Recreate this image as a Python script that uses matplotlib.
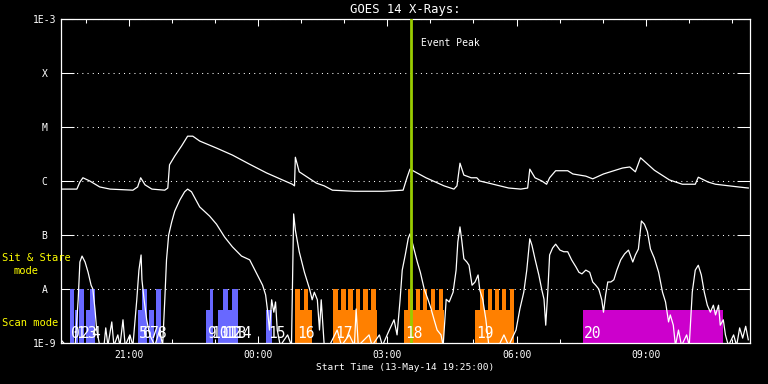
import numpy as np
import matplotlib
matplotlib.use("Agg")
import matplotlib.pyplot as plt
from matplotlib.ticker import FixedLocator, NullLocator

plt.rcParams["font.family"] = ["DejaVu Sans Mono"]

# hours since start time (13-May-14 19:25:00)
START_H = 19 + 25 / 60
SPAN_H = 16.0
time_labels = ["21:00", "00:00", "03:00", "06:00", "09:00"]

# GOES 1-8 A channel (log10 W/m^2)
long_t = [0.01, 0.38, 0.45, 0.52, 0.68, 0.91, 1.15, 1.68, 1.79, 1.86,
          1.96, 2.12, 2.42, 2.49, 2.53, 2.65, 2.81, 2.95, 3.07, 3.23,
          3.62, 3.99, 4.39, 4.78, 5.15, 5.38, 5.43, 5.45, 5.54, 5.94,
          6.12, 6.31, 6.82, 7.49, 7.95, 8.04, 8.11, 8.48, 8.90, 9.13,
          9.20, 9.27, 9.36, 9.53, 9.66, 9.73, 9.94, 10.40, 10.68, 10.84,
          10.89, 11.01, 11.17, 11.28, 11.35, 11.49, 11.77, 11.89, 12.19, 12.35,
          12.60, 13.04, 13.21, 13.34, 13.46, 13.78, 14.13, 14.43, 14.73, 14.80,
          15.03, 15.20, 15.73, 15.96]
long_log = [-6.15, -6.15, -6.02, -5.94, -6.00, -6.11, -6.15, -6.17, -6.11, -5.94,
            -6.07, -6.15, -6.17, -6.13, -5.70, -5.54, -5.35, -5.17, -5.17, -5.26,
            -5.39, -5.52, -5.69, -5.85, -5.98, -6.06, -6.09, -5.56, -5.83, -6.04,
            -6.09, -6.17, -6.19, -6.19, -6.17, -5.94, -5.78, -5.94, -6.09, -6.15,
            -6.09, -5.67, -5.89, -5.94, -5.94, -6.00, -6.04, -6.13, -6.15, -6.13,
            -5.78, -5.94, -6.00, -6.06, -5.94, -5.81, -5.81, -5.87, -5.91, -5.96,
            -5.87, -5.76, -5.74, -5.83, -5.57, -5.80, -5.98, -6.06, -6.06, -5.93,
            -6.02, -6.06, -6.11, -6.13]

# GOES 0.5-4 A channel (log10 W/m^2)
short_t = [0.01, 0.13, 0.34, 0.41, 0.45, 0.50, 0.57, 0.64, 0.71, 0.75,
           0.80, 0.84, 0.91, 1.01, 1.05, 1.10, 1.19, 1.24, 1.33, 1.38,
           1.45, 1.50, 1.61, 1.68, 1.77, 1.82, 1.87, 1.89, 1.94, 2.00,
           2.07, 2.19, 2.30, 2.37, 2.42, 2.46, 2.51, 2.58, 2.65, 2.77,
           2.88, 2.95, 3.04, 3.23, 3.46, 3.62, 3.81, 3.99, 4.20, 4.39,
           4.57, 4.69, 4.76, 4.80, 4.85, 4.90, 4.95, 4.99, 5.03, 5.10,
           5.27, 5.36, 5.41, 5.45, 5.54, 5.66, 5.78, 5.84, 5.89, 5.96,
           6.01, 6.05, 6.12, 6.24, 6.42, 6.52, 6.70, 6.82, 6.86, 6.91,
           7.16, 7.23, 7.40, 7.47, 7.63, 7.74, 7.81, 7.88, 7.93, 8.00,
           8.07, 8.11, 8.18, 8.28, 8.35, 8.44, 8.53, 8.60, 8.67, 8.74,
           8.83, 8.88, 8.95, 9.02, 9.11, 9.18, 9.22, 9.27, 9.31, 9.36,
           9.43, 9.48, 9.55, 9.62, 9.69, 9.73, 9.80, 9.87, 9.94, 10.17,
           10.29, 10.40, 10.57, 10.66, 10.75, 10.82, 10.89, 10.94, 11.01, 11.10,
           11.17, 11.22, 11.26, 11.31, 11.35, 11.42, 11.49, 11.59, 11.68, 11.77,
           11.86, 11.96, 12.03, 12.10, 12.19, 12.28, 12.35, 12.42, 12.49, 12.56,
           12.60, 12.65, 12.70, 12.77, 12.84, 12.91, 13.00, 13.09, 13.18, 13.28,
           13.34, 13.41, 13.48, 13.55, 13.62, 13.69, 13.78, 13.88, 13.97, 14.04,
           14.11, 14.15, 14.22, 14.27, 14.34, 14.41, 14.53, 14.59, 14.66, 14.73,
           14.80, 14.87, 14.94, 15.01, 15.08, 15.15, 15.20, 15.27, 15.31, 15.38,
           15.43, 15.50, 15.62, 15.69, 15.76, 15.83, 15.90, 15.96]
short_log = [-8.94, -9.05, -9.05, -8.20, -7.50, -7.39, -7.50, -7.69, -7.93, -8.00,
             -8.37, -8.76, -9.05, -9.05, -8.72, -9.05, -8.61, -9.05, -8.85, -9.05,
             -8.57, -9.05, -8.85, -9.05, -8.20, -7.65, -7.37, -7.83, -8.20, -8.57,
             -8.85, -9.05, -8.76, -9.05, -8.20, -7.46, -7.00, -6.76, -6.56, -6.35,
             -6.20, -6.15, -6.20, -6.48, -6.65, -6.80, -7.04, -7.22, -7.39, -7.46,
             -7.74, -7.93, -8.11, -8.37, -8.76, -8.20, -8.43, -8.24, -8.76, -9.05,
             -8.85, -9.05, -6.61, -6.91, -7.31, -7.69, -8.00, -8.20, -8.06, -8.20,
             -8.76, -8.20, -9.05, -9.05, -8.76, -9.05, -8.85, -9.05, -8.37, -9.05,
             -8.85, -9.05, -8.85, -9.05, -8.76, -8.57, -8.85, -8.20, -7.65, -7.37,
             -7.06, -6.98, -7.19, -7.50, -7.69, -8.00, -8.20, -8.37, -8.57, -8.76,
             -8.85, -9.05, -8.19, -8.24, -8.06, -7.65, -7.13, -6.85, -7.09, -7.44,
             -7.50, -7.56, -7.93, -7.87, -7.74, -8.02, -8.20, -8.56, -9.05, -9.05,
             -8.85, -9.05, -8.76, -8.37, -8.06, -7.65, -7.07, -7.19, -7.44, -7.74,
             -8.02, -8.19, -8.67, -8.02, -7.37, -7.24, -7.17, -7.28, -7.31, -7.31,
             -7.46, -7.59, -7.69, -7.72, -7.65, -7.69, -7.87, -7.93, -8.00, -8.20,
             -8.43, -8.11, -7.87, -7.87, -7.83, -7.65, -7.46, -7.35, -7.28, -7.50,
             -7.37, -7.26, -6.74, -6.80, -6.94, -7.26, -7.43, -7.69, -8.06, -8.24,
             -8.61, -8.48, -8.67, -9.05, -8.76, -9.05, -8.85, -9.05, -8.06, -7.65,
             -7.56, -7.74, -8.06, -8.30, -8.43, -8.30, -8.48, -8.30, -8.67, -8.57,
             -8.85, -9.05, -8.85, -9.05, -8.72, -8.91, -8.69, -8.94]

# scan-mode observations 0..15 (start, end, tall or short box)
scan_start = [0.22, 0.34, 0.43, 0.59, 0.68, 1.79, 1.89, 2.05, 2.21,
              3.37, 3.46, 3.65, 3.76, 3.88, 3.99, 4.78]
scan_end = [0.31, 0.41, 0.54, 0.68, 0.80, 1.89, 2.00, 2.16, 2.33,
            3.46, 3.55, 3.76, 3.88, 3.99, 4.11, 4.90]
scan_tall = [1, 0, 1, 0, 1, 0, 1, 0, 1, 0, 1, 0, 1, 0, 1, 0]

# sit & stare observations 16..19, with their raster steps
sit_start = [5.45, 6.33, 7.97, 9.62]
sit_end = [5.84, 7.35, 8.90, 10.52]
sit_steps = [[5.45, 5.64],
             [6.33, 6.52, 6.68, 6.86, 7.03, 7.21],
             [8.07, 8.25, 8.41, 8.60, 8.78],
             [9.73, 9.92, 10.08, 10.24, 10.43]]
STEP_W = 0.10

# observation 20 (other mode)
other_start = [12.12]
other_end = [15.38]

event_peak = 8.13

LOW, HIGH_BOX, LOW_BOX = 1e-9, 1e-8, 4.1e-9
C_SCAN, C_SIT, C_OTHER = "#6868FF", "#FF8000", "#CC00CC"
C_PEAK = "#99CC00"

fig = plt.figure(figsize=(7.68, 3.84), dpi=100, facecolor="black")
ax = fig.add_axes([60.5 / 768, 41 / 384, 689.5 / 768, 324 / 384])
ax.set_facecolor("black")
ax.set_axisbelow(True)

# observation boxes
s0, s1 = np.array(scan_start), np.array(scan_end)
tops = np.where(np.array(scan_tall) == 1, HIGH_BOX, LOW_BOX)
ax.bar(s0, tops - LOW, width=s1 - s0, bottom=LOW, align="edge",
       color=C_SCAN, linewidth=0)
a0, a1 = np.array(sit_start), np.array(sit_end)
ax.bar(a0, LOW_BOX - LOW, width=a1 - a0, bottom=LOW, align="edge",
       color=C_SIT, linewidth=0)
steps = np.concatenate([np.array(s) for s in sit_steps])
ax.bar(steps, HIGH_BOX - LOW, width=STEP_W, bottom=LOW, align="edge",
       color=C_SIT, linewidth=0)
o0, o1 = np.array(other_start), np.array(other_end)
ax.bar(o0, LOW_BOX - LOW, width=o1 - o0, bottom=LOW, align="edge",
       color=C_OTHER, linewidth=0)

# observation numbers
all_start = list(scan_start) + list(sit_start) + list(other_start)
for i, x in enumerate(all_start):
    ax.annotate(str(i), xy=(x, LOW), xytext=(1.5, 4.5),
                textcoords="offset pixels", color="white", fontsize=10.5,
                va="baseline", ha="left", zorder=4)

# light curves
ax.plot(long_t, 10 ** np.array(long_log), color="white", lw=0.9, zorder=3)
ax.plot(short_t, 10 ** np.array(short_log), color="white", lw=0.9, zorder=3)

# event peak marker
ax.axvline(event_peak, color=C_PEAK, lw=2, zorder=3.5)
ax.annotate("Event Peak", xy=(event_peak, 1e-3), xytext=(10, -24),
            textcoords="offset pixels", color="white", fontsize=7,
            va="center", ha="left")

# axes
ax.set_yscale("log")
ax.set_ylim(1e-9, 1e-3)
ax.set_xlim(0, SPAN_H)
ax.yaxis.set_major_locator(FixedLocator([1e-9, 1e-8, 1e-7, 1e-6, 1e-5, 1e-4, 1e-3]))
ax.yaxis.set_minor_locator(NullLocator())
ax.set_yticklabels(["1E-9", "A", "B", "C", "M", "X", "1E-3"])
for lab in ax.get_yticklabels():
    lab.set_ha("center")

major_x = [(int(s[:2]) + int(s[3:]) / 60 - START_H) % 24 for s in time_labels]
minor_x = np.arange(np.ceil(START_H) - START_H, SPAN_H, 1.0)
ax.xaxis.set_major_locator(FixedLocator(major_x))
ax.xaxis.set_minor_locator(FixedLocator(minor_x))
ax.set_xticklabels(time_labels)

ax.tick_params(axis="x", which="major", direction="in", length=5, width=0.75,
               top=True, bottom=True, colors="white", labelsize=7, pad=5)
ax.tick_params(axis="x", which="minor", direction="in", length=3, width=0.75,
               top=True, bottom=True, color="white")
ax.tick_params(axis="y", which="major", direction="in", length=9.4, width=0.75,
               left=True, right=True, colors="white", labelsize=7, pad=11.5)
ax.grid(axis="y", which="major", color="white", linestyle=(0, (1, 4)), linewidth=0.75)
for sp in ax.spines.values():
    sp.set_color("white")
    sp.set_linewidth(0.9)

# texts
fig.text(405 / 768, 1 - 10 / 384, "GOES 14 X-Rays:", color="white",
         fontsize=8.8, ha="center", va="center")
fig.text(405 / 768, 1 - 368 / 384, "Start Time (13-May-14 19:25:00)",
         color="white", fontsize=6.8, ha="center", va="center")
fig.text(2 / 768, 1 - 258 / 384, "Sit & Stare", color="yellow",
         fontsize=7.5, ha="left", va="center")
fig.text(13 / 768, 1 - 271 / 384, "mode", color="yellow",
         fontsize=7.5, ha="left", va="center")
fig.text(2 / 768, 1 - 323 / 384, "Scan mode", color="yellow",
         fontsize=7.5, ha="left", va="center")

fig.savefig("out.png", dpi=100, facecolor="black")
